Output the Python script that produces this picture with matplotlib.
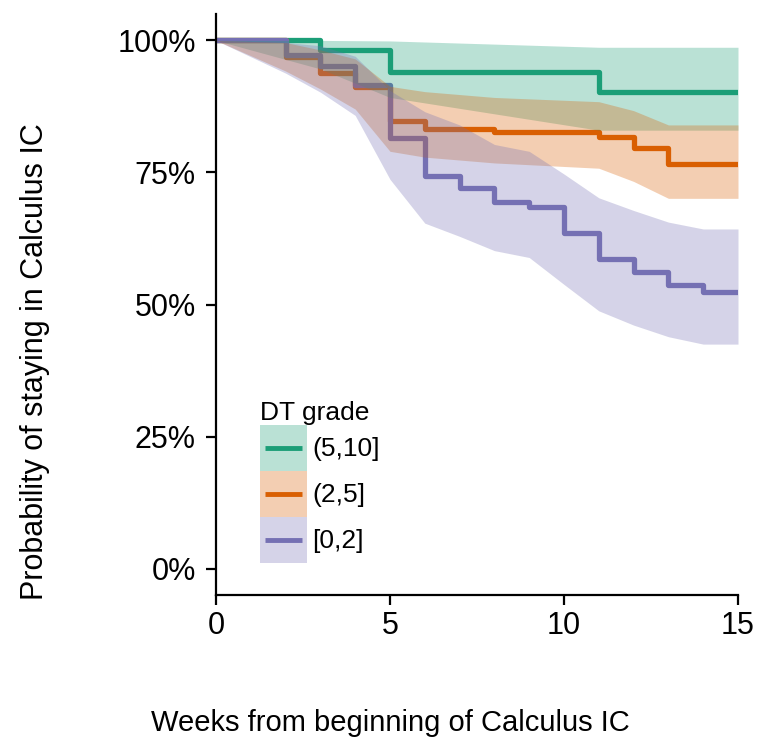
import matplotlib
matplotlib.use("Agg")
import matplotlib.pyplot as plt
from matplotlib.patches import Rectangle
from matplotlib.lines import Line2D
from matplotlib.ticker import FuncFormatter

plt.rcParams['font.family'] = ['Liberation Sans', 'DejaVu Sans']

# ---------------- data ----------------
groups = ["(5,10]", "(2,5]", "[0,2]"]
colors = ["#1B9E77", "#D95F02", "#7570B3"]

# (5,10]
t_high = [0, 3, 5, 11, 15]
surv_high = [100, 98.1, 94.1, 90.3, 90.3]
upper_high = [100, 100, 99.9, 98.7, 98.7]
lower_high = [100, 94.6, 89.2, 83.0, 83.0]

# (2,5]
t_mid = [0, 2, 3, 4, 5, 6, 8, 11, 12, 13, 15]
surv_mid = [100, 96.8, 93.9, 91.1, 84.7, 83.3, 82.6, 81.8, 79.6, 76.6, 76.6]
upper_mid = [100, 99.6, 98.2, 96.5, 91.3, 90.3, 89.2, 88.4, 86.7, 84.0, 84.0]
lower_mid = [100, 94.2, 90.8, 87.0, 79.0, 77.9, 76.8, 75.8, 73.3, 70.1, 70.1]

# [0,2]
t_low = [0, 2, 3, 4, 5, 6, 7, 8, 9, 10, 11, 12, 13, 14, 15]
surv_low = [100, 97.2, 95.1, 91.5, 81.6, 74.4, 72.0, 69.5, 68.4, 63.5, 58.6, 56.1, 53.7, 52.3, 52.3]
upper_low = [100, 99.6, 99.0, 97.0, 90.5, 86.5, 84.0, 80.3, 79.0, 74.7, 70.2, 67.8, 65.6, 64.3, 64.3]
lower_low = [100, 93.8, 90.2, 85.8, 73.7, 65.4, 62.9, 60.2, 58.9, 53.8, 48.8, 46.1, 43.9, 42.5, 42.5]

x_ticks = [0, 5, 10, 15]
y_ticks = [0, 25, 50, 75, 100]
x_label = "Weeks from beginning of Calculus IC"
y_label = "Probability of staying in Calculus IC"
legend_title = "DT grade"

series = [
    (t_high, surv_high, upper_high, lower_high),
    (t_mid, surv_mid, upper_mid, lower_mid),
    (t_low, surv_low, upper_low, lower_low),
]

# ---------------- figure ----------------
W, H = 759, 742
fig = plt.figure(figsize=(W / 100, H / 100), dpi=100)
ax = fig.add_axes([216 / W, (H - 595) / H, 522 / W, 581 / H])

LW = 3.8
for (t, s, up, lo), c in zip(series, colors):
    ax.step(t, s, where="post", color=c, lw=LW, zorder=1,
            solid_joinstyle="round", solid_capstyle="butt")
for (t, s, up, lo), c in zip(series, colors):
    ax.fill_between(t, lo, up, color=c, alpha=0.3, lw=0, zorder=2)

ax.set_xlim(0, 15)
ax.set_ylim(-5, 105)
ax.set_xticks(x_ticks)
ax.set_yticks(y_ticks)
ax.yaxis.set_major_formatter(FuncFormatter(lambda v, p: f"{v:.0f}%"))
for side in ["top", "right"]:
    ax.spines[side].set_visible(False)
for side in ["left", "bottom"]:
    ax.spines[side].set_linewidth(1.6)
ax.tick_params(axis="both", length=7.5, width=1.6, labelsize=22, colors="black")
ax.tick_params(axis="x", pad=4)
ax.tick_params(axis="y", pad=7)

fig.text(390 / W, (H - 731) / H, x_label, fontsize=21, ha="center", va="baseline")
fig.text(35 / W, (H - 362) / H, y_label, fontsize=22, ha="center", va="center", rotation=90)


# ---------------- legend ----------------
class KeyHandler:
    def __init__(self, color):
        self.color = color

    def legend_artist(self, legend, orig_handle, fontsize, handlebox):
        x0, y0 = handlebox.xdescent, handlebox.ydescent
        w, h = handlebox.width, handlebox.height
        tr = handlebox.get_transform()
        rect = Rectangle((-x0, -y0), w, h, facecolor=self.color, alpha=0.3,
                         edgecolor="none", transform=tr)
        line = Line2D([-x0 + 0.1 * w, -x0 + 0.9 * w], [-y0 + h / 2] * 2,
                      color=self.color, lw=3.5, solid_capstyle="butt", transform=tr)
        handlebox.add_artist(rect)
        handlebox.add_artist(line)
        return rect


handles = [Rectangle((0, 0), 1, 1) for _ in groups]
handler_map = {h: KeyHandler(c) for h, c in zip(handles, colors)}
leg = ax.legend(handles, groups, handler_map=handler_map, title=legend_title,
                loc="lower left", bbox_to_anchor=((260 - 216) / 522, (595 - 563) / 581),
                frameon=False, fontsize=19, title_fontsize=19,
                handlelength=1.78, handleheight=2.31, labelspacing=0,
                handletextpad=0.2, borderpad=0, borderaxespad=0,
                alignment="left")

fig.savefig("out.png", dpi=100)
